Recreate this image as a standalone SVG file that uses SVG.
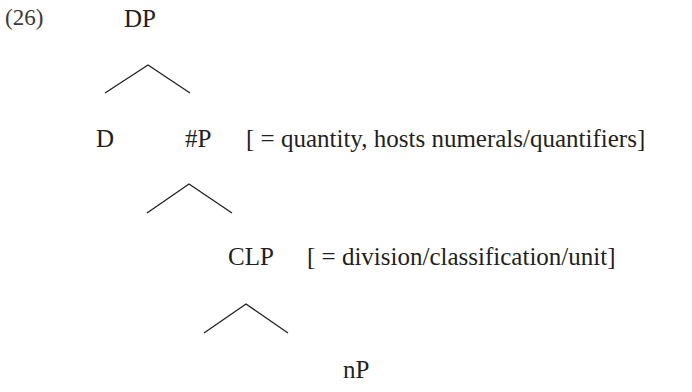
<svg xmlns="http://www.w3.org/2000/svg" width="692" height="392" viewBox="0 0 692 392">
<style>
text{font-family:"Liberation Serif","Times New Roman",serif;font-size:25px;fill:#231f20}
.num{font-size:23px;fill:#3a3a3a}
.br{stroke:#231f20;stroke-width:1.3;fill:none}
</style>
<rect width="692" height="392" fill="#fff"/>
<text class="num" x="5" y="25">(26)</text>
<g id="DP"><text x="124" y="27">DP</text></g>
<g id="D"><text x="96" y="147">D</text></g>
<g id="NumP"><text x="185" y="147">#P</text><text x="246" y="147">[ = quantity, hosts numerals/quantifiers]</text></g>
<g id="CLP"><text x="228" y="265">CLP</text><text x="307" y="265">[ = division/classification/unit]</text></g>
<g id="nP"><text x="343" y="378">nP</text></g>
<g id="connectors">
<polyline class="br" points="105,93 148,65 190,93"/>
<polyline class="br" points="147,213 189,184 232,213"/>
<polyline class="br" points="204,333 246,304 288,333"/>
</g>
</svg>
